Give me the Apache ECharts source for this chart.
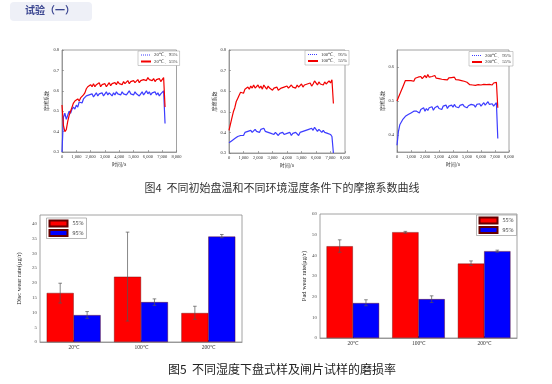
<!DOCTYPE html>
<html><head><meta charset="utf-8">
<script src="https://cdn.jsdelivr.net/npm/echarts@6/dist/echarts.min.js"></script>
<style>html,body{margin:0;padding:0;background:#fff}#c{width:552px;height:384px}</style>
</head><body><div id="c"></div>
<script>
const time = [0,100,200,300,400,500,600,700,800,900,
  1000,1100,1200,1300,1400,1500,1600,1700,1800,1900,
  2000,2100,2200,2300,2400,2500,2600,2700,2800,2900,
  3000,3100,3200,3300,3400,3500,3600,3700,3800,3900,
  4000,4100,4200,4300,4400,4500,4600,4700,4800,4900,
  5000,5100,5200,5300,5400,5500,5600,5700,5800,5900,
  6000,6100,6200,6300,6400,6500,6600,6700,6800,6900,
  7000,7100,7200];
const c1Blue = [0.30,0.47,0.49,0.46,0.48,0.50,0.49,0.51,0.52,0.51,
  0.53,0.52,0.545,0.55,0.54,0.56,0.565,0.575,0.57,0.58,
  0.575,0.585,0.57,0.58,0.59,0.575,0.585,0.58,0.59,0.575,
  0.585,0.595,0.58,0.59,0.585,0.575,0.59,0.58,0.595,0.585,
  0.59,0.58,0.595,0.585,0.59,0.58,0.59,0.60,0.585,0.59,
  0.58,0.595,0.585,0.59,0.575,0.585,0.595,0.58,0.59,0.60,
  0.585,0.595,0.58,0.59,0.585,0.595,0.58,0.59,0.575,0.585,
  0.59,0.60,0.44];
const c1Red = [0.53,0.43,0.40,0.41,0.45,0.48,0.50,0.52,0.54,0.55,
  0.545,0.56,0.55,0.565,0.57,0.58,0.59,0.61,0.62,0.615,
  0.63,0.62,0.635,0.62,0.63,0.625,0.64,0.62,0.63,0.625,
  0.635,0.62,0.63,0.64,0.625,0.635,0.63,0.64,0.63,0.645,
  0.635,0.64,0.63,0.645,0.635,0.64,0.65,0.635,0.645,0.64,
  0.65,0.64,0.645,0.655,0.64,0.65,0.645,0.655,0.66,0.65,
  0.665,0.655,0.66,0.65,0.66,0.645,0.655,0.65,0.66,0.645,
  0.655,0.665,0.52];
const c2Blue = [0.35,0.345,0.36,0.355,0.37,0.365,0.38,0.375,0.385,0.39,
  0.385,0.40,0.395,0.405,0.40,0.41,0.40,0.405,0.415,0.405,
  0.41,0.40,0.415,0.41,0.42,0.405,0.41,0.40,0.405,0.395,
  0.40,0.39,0.40,0.395,0.385,0.395,0.39,0.40,0.39,0.385,
  0.395,0.39,0.40,0.385,0.395,0.39,0.40,0.395,0.385,0.40,
  0.395,0.405,0.40,0.41,0.405,0.415,0.41,0.42,0.41,0.425,
  0.415,0.405,0.415,0.41,0.40,0.41,0.40,0.405,0.395,0.40,
  0.39,0.38,0.30];
const c2Red = [0.41,0.44,0.47,0.50,0.52,0.55,0.565,0.58,0.595,0.60,
  0.59,0.61,0.605,0.62,0.61,0.625,0.615,0.63,0.615,0.62,
  0.63,0.615,0.625,0.61,0.63,0.62,0.61,0.625,0.615,0.62,
  0.605,0.615,0.61,0.62,0.605,0.60,0.615,0.61,0.62,0.615,
  0.625,0.615,0.62,0.63,0.62,0.625,0.615,0.63,0.62,0.625,
  0.635,0.62,0.63,0.625,0.635,0.63,0.64,0.625,0.635,0.65,
  0.64,0.63,0.645,0.635,0.64,0.63,0.645,0.635,0.64,0.65,
  0.64,0.655,0.54];
const c3Blue = [0.37,0.41,0.43,0.435,0.445,0.45,0.455,0.45,0.46,0.455,
  0.465,0.46,0.47,0.465,0.47,0.475,0.465,0.475,0.47,0.48,
  0.47,0.478,0.472,0.48,0.475,0.483,0.473,0.48,0.476,0.485,
  0.478,0.482,0.475,0.485,0.48,0.488,0.478,0.485,0.48,0.488,
  0.482,0.49,0.483,0.488,0.48,0.487,0.482,0.49,0.484,0.488,
  0.48,0.486,0.482,0.49,0.485,0.488,0.482,0.49,0.486,0.492,
  0.485,0.49,0.495,0.488,0.492,0.498,0.49,0.486,0.492,0.485,
  0.49,0.495,0.39];
const c3Red = [0.50,0.51,0.515,0.53,0.54,0.55,0.56,0.555,0.56,0.565,
  0.56,0.565,0.558,0.567,0.562,0.57,0.565,0.572,0.566,0.57,
  0.575,0.568,0.578,0.57,0.565,0.572,0.568,0.575,0.567,0.572,
  0.566,0.57,0.564,0.568,0.563,0.567,0.562,0.568,0.564,0.569,
  0.565,0.57,0.563,0.567,0.562,0.566,0.56,0.564,0.558,0.562,
  0.555,0.552,0.548,0.553,0.547,0.552,0.546,0.551,0.548,0.553,
  0.547,0.552,0.549,0.554,0.548,0.553,0.549,0.552,0.547,0.553,
  0.55,0.555,0.48];
const lineNames = [['20℃、95%','20℃、55%'],['100℃、95%','100℃、55%'],['200℃、95%','200℃、55%']];
const frictionTicks3 = [0.4,0.5,0.6];

const barCategories = ['20℃','100℃','200℃'];
const humidity = ['55%','95%'];
const disc55 = [16.6, 22.1, 9.8];
const disc95 = [9.1, 13.5, 35.7];
const disc55Err = [[13.2,19.9],[7.1,37.2],[7.7,12.1]];
const disc95Err = [[8.0,10.3],[12.4,14.6],[35.3,36.4]];
const pad55 = [44.4, 51.2, 36.0];
const pad95 = [16.9, 18.8, 42.0];
const pad55Err = [[41.5,47.5],[50.7,51.6],[35.1,37.3]];
const pad95Err = [[15.6,18.5],[17.2,20.4],[41.5,42.5]];

const RED = '#f20000', LBLUE = '#3c3cff';
const SERIF = 'Liberation Serif', CJK = 'Noto Sans CJK SC';
const pts = ys => time.map((t,i)=>[t, ys[i]]);

const grids = [
  {left:62, top:50, width:114.5, height:102},
  {left:229, top:50, width:116, height:103},
  {left:397, top:50, width:112, height:102},
  {left:40, top:215, width:202, height:127},
  {left:320, top:214, width:197, height:124}
].map(g => Object.assign(g, {show:true, borderColor:'#8a8a8a', borderWidth:0.8, backgroundColor:'transparent'}));

function lineX(gi){
  return {type:'value', gridIndex:gi, min:0, max:8000, interval:1000,
    axisLabel:{fontSize:4.5, margin:2.5, color:'#333', fontFamily:SERIF, formatter:v=>v.toLocaleString('en-US')},
    axisTick:{inside:true, length:2, lineStyle:{color:'#777', width:0.6}},
    axisLine:{lineStyle:{color:'#8a8a8a', width:0.8}}, splitLine:{show:false},
    name:'时间/s', nameLocation:'middle', nameGap:10, nameTextStyle:{fontSize:5, fontFamily:CJK, color:'#333'}};
}
function lineY(gi, min, max, gap, custom){
  const o = {type:'value', gridIndex:gi, min:min, max:max, interval:0.1,
    axisLabel:{fontSize:4.5, margin:3, color:'#333', fontFamily:SERIF, formatter:v=>v.toFixed(1)},
    axisTick:{inside:true, length:2, lineStyle:{color:'#777', width:0.6}},
    axisLine:{lineStyle:{color:'#8a8a8a', width:0.8}}, splitLine:{show:false},
    name:'摩擦系数', nameLocation:'middle', nameGap:gap, nameTextStyle:{fontSize:5, fontFamily:CJK, color:'#333'}};
  if (custom){ o.axisLabel.customValues = custom; o.axisTick.customValues = custom; delete o.interval; }
  return o;
}
function barX(gi){
  return {type:'category', gridIndex:gi, data:barCategories,
    axisLabel:{fontSize:5.5, margin:3, color:'#333', fontFamily:SERIF},
    axisTick:{show:true, alignWithLabel:true, inside:true, length:2, lineStyle:{color:'#777'}},
    axisLine:{lineStyle:{color:'#8a8a8a', width:0.8}}};
}
function barY(gi, max, interval, name, gap){
  return {type:'value', gridIndex:gi, min:0, max:max, interval:interval,
    axisLabel:{fontSize:5, margin:3, color:'#555', fontFamily:SERIF, showMaxLabel: max % interval === 0},
    axisTick:{inside:true, length:2, lineStyle:{color:'#777'}},
    axisLine:{lineStyle:{color:'#8a8a8a', width:0.8}}, splitLine:{show:false},
    name:name, nameLocation:'middle', nameGap:gap, nameTextStyle:{fontSize:6.5, fontFamily:SERIF, color:'#222'}};
}
function errSeries(gi, errs, sign){
  return {type:'custom', xAxisIndex:gi, yAxisIndex:gi, z:10, silent:true,
    data: errs.map((e,i)=>[i, e[0], e[1]]),
    encode:{x:0, y:[1,2]},
    renderItem:(params, api)=>{
      const lo = api.coord([api.value(0), api.value(1)]);
      const hi = api.coord([api.value(0), api.value(2)]);
      const band = api.size([1,0])[0];
      const x = lo[0] + sign*0.2*band;
      const st = {stroke:'#555', lineWidth:0.7};
      return {type:'group', children:[
        {type:'line', shape:{x1:x, y1:lo[1], x2:x, y2:hi[1]}, style:st},
        {type:'line', shape:{x1:x-1.8, y1:lo[1], x2:x+1.8, y2:lo[1]}, style:st},
        {type:'line', shape:{x1:x-1.8, y1:hi[1], x2:x+1.8, y2:hi[1]}, style:st}
      ]};
    }};
}
function lineLegend(i, left, top){
  return {orient:'vertical', left:left, top:top, itemWidth:10, itemHeight:3, itemGap:1.5,
    padding:[1.5,2,1.5,2], borderColor:'#9a9a9a', borderWidth:0.5, backgroundColor:'#fff',
    itemStyle:{opacity:0},
    textStyle:{fontSize:4.8, fontFamily:SERIF, color:'#333', padding:[0,0,0,-2]},
    data:[{name:lineNames[i][0], lineStyle:{type:'dotted', width:1}}, {name:lineNames[i][1]}]};
}
function barLegend(left, top){
  return {orient:'vertical', left:left, top:top, itemWidth:18, itemHeight:6, itemGap:1.5,
    padding:[1.5,3,1.5,2], borderColor:'#888', borderWidth:0.6, backgroundColor:'#fff',
    icon:'rect', textStyle:{fontSize:6, fontFamily:SERIF, color:'#333'}, data:humidity};
}
function lineSeries(gi, name, ys, color){
  return {type:'line', name:name, xAxisIndex:gi, yAxisIndex:gi, data:pts(ys), symbol:'none',
    lineStyle:{color:color, width:1.2}, itemStyle:{color:color}, animation:false};
}
function barSeries(gi, name, vals, color){
  return {type:'bar', name:name, xAxisIndex:gi, yAxisIndex:gi, data:vals, barGap:'0%', barCategoryGap:'20%',
    itemStyle:{color:color, borderColor:'#600', borderWidth:0.4}};
}

const option = {
  animation:false,
  backgroundColor:'#fff',
  grid: grids,
  xAxis:[lineX(0), lineX(1), lineX(2), barX(3), barX(4)],
  yAxis:[lineY(0,0.3,0.8,13), lineY(1,0.3,0.8,11), lineY(2,0.35,0.65,4,frictionTicks3),
         barY(3,43,5,'Disc wear rate(μg/r)',17), barY(4,60,10,'Pad wear rate(μg/r)',10)],
  legend:[lineLegend(0,138,51), lineLegend(1,305,50.5), lineLegend(2,469,51.5), barLegend(46.5,218), barLegend(476.5,215)],
  series:[
    lineSeries(0,lineNames[0][0],c1Blue,LBLUE), lineSeries(0,lineNames[0][1],c1Red,RED),
    lineSeries(1,lineNames[1][0],c2Blue,LBLUE), lineSeries(1,lineNames[1][1],c2Red,RED),
    lineSeries(2,lineNames[2][0],c3Blue,LBLUE), lineSeries(2,lineNames[2][1],c3Red,RED),
    barSeries(3,humidity[0],disc55,'#ff0000'), barSeries(3,humidity[1],disc95,'#0000ff'),
    barSeries(4,humidity[0],pad55,'#ff0000'), barSeries(4,humidity[1],pad95,'#0000ff'),
    errSeries(3,disc55Err,-1), errSeries(3,disc95Err,1),
    errSeries(4,pad55Err,-1), errSeries(4,pad95Err,1)
  ],
  graphic:[
    {type:'rect', left:10, top:2, shape:{width:82, height:19, r:4}, style:{fill:'#eef0f7'}},
    {type:'text', left:25, top:5.5, style:{text:'试验（一）', fontSize:10, fontWeight:'bold', fontFamily:CJK, fill:'#3a4590'}},
    {type:'text', x:282, y:187.5, style:{text:'图4  不同初始盘温和不同环境湿度条件下的摩擦系数曲线', fontSize:11, fontFamily:CJK, fill:'#333', align:'center', verticalAlign:'middle'}},
    {type:'text', x:282, y:369.5, style:{text:'图5  不同湿度下盘式样及闸片试样的磨损率', fontSize:12, fontFamily:CJK, fill:'#222', align:'center', verticalAlign:'middle'}}
  ]
};
const chart = echarts.init(document.getElementById('c'), null, {renderer:'canvas'});
chart.setOption(option);
</script></body></html>
